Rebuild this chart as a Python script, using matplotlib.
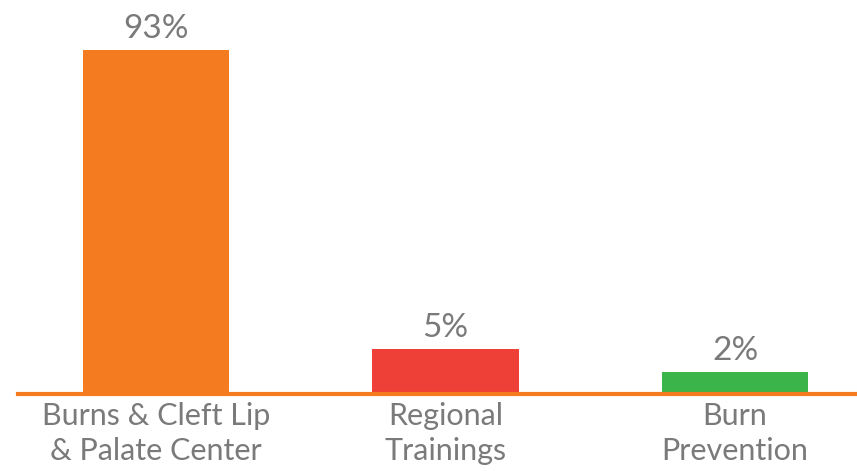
import matplotlib.pyplot as plt

# Data
categories = ["Burns & Cleft Lip\n& Palate Center", "Regional\nTrainings", "Burn\nPrevention"]
shares = [93, 5, 2]            # printed labels (%)
bar_heights = [93, 12.2, 6]    # drawn bar heights (the original is not to scale)
bar_colors = ["#f47b20", "#ee4036", "#3bb54a"]

plt.rcParams["font.family"] = ["Lato", "DejaVu Sans"]
text_color = "#7a7a7a"

fig = plt.figure(figsize=(8.57, 4.71), dpi=100)
ax = fig.add_axes([0, 77 / 471, 1, 394 / 471])

x = list(range(len(categories)))
bars = ax.bar(x, bar_heights, width=0.505, color=bar_colors, zorder=2)

for b, s in zip(bars, shares):
    ax.annotate(f"{s}%", (b.get_x() + b.get_width() / 2, b.get_height()),
                xytext=(0, 4), textcoords="offset points",
                ha="center", va="bottom", fontsize=24, color=text_color)

ax.set_xlim(-156 / 289.5, 2 + 122 / 289.5)
ax.set_ylim(0, 93 * 394 / 344)

# orange baseline
ax.axhline(0, xmin=18 / 857, xmax=1, color="#f47b20", lw=3, zorder=3, clip_on=False)

ax.set_xticks(x)
ax.set_xticklabels(categories, fontsize=22, color=text_color, linespacing=1.3)
ax.tick_params(axis="x", length=0, pad=6)
ax.set_yticks([])
for sp in ax.spines.values():
    sp.set_visible(False)

fig.savefig("out.png", dpi=100)
